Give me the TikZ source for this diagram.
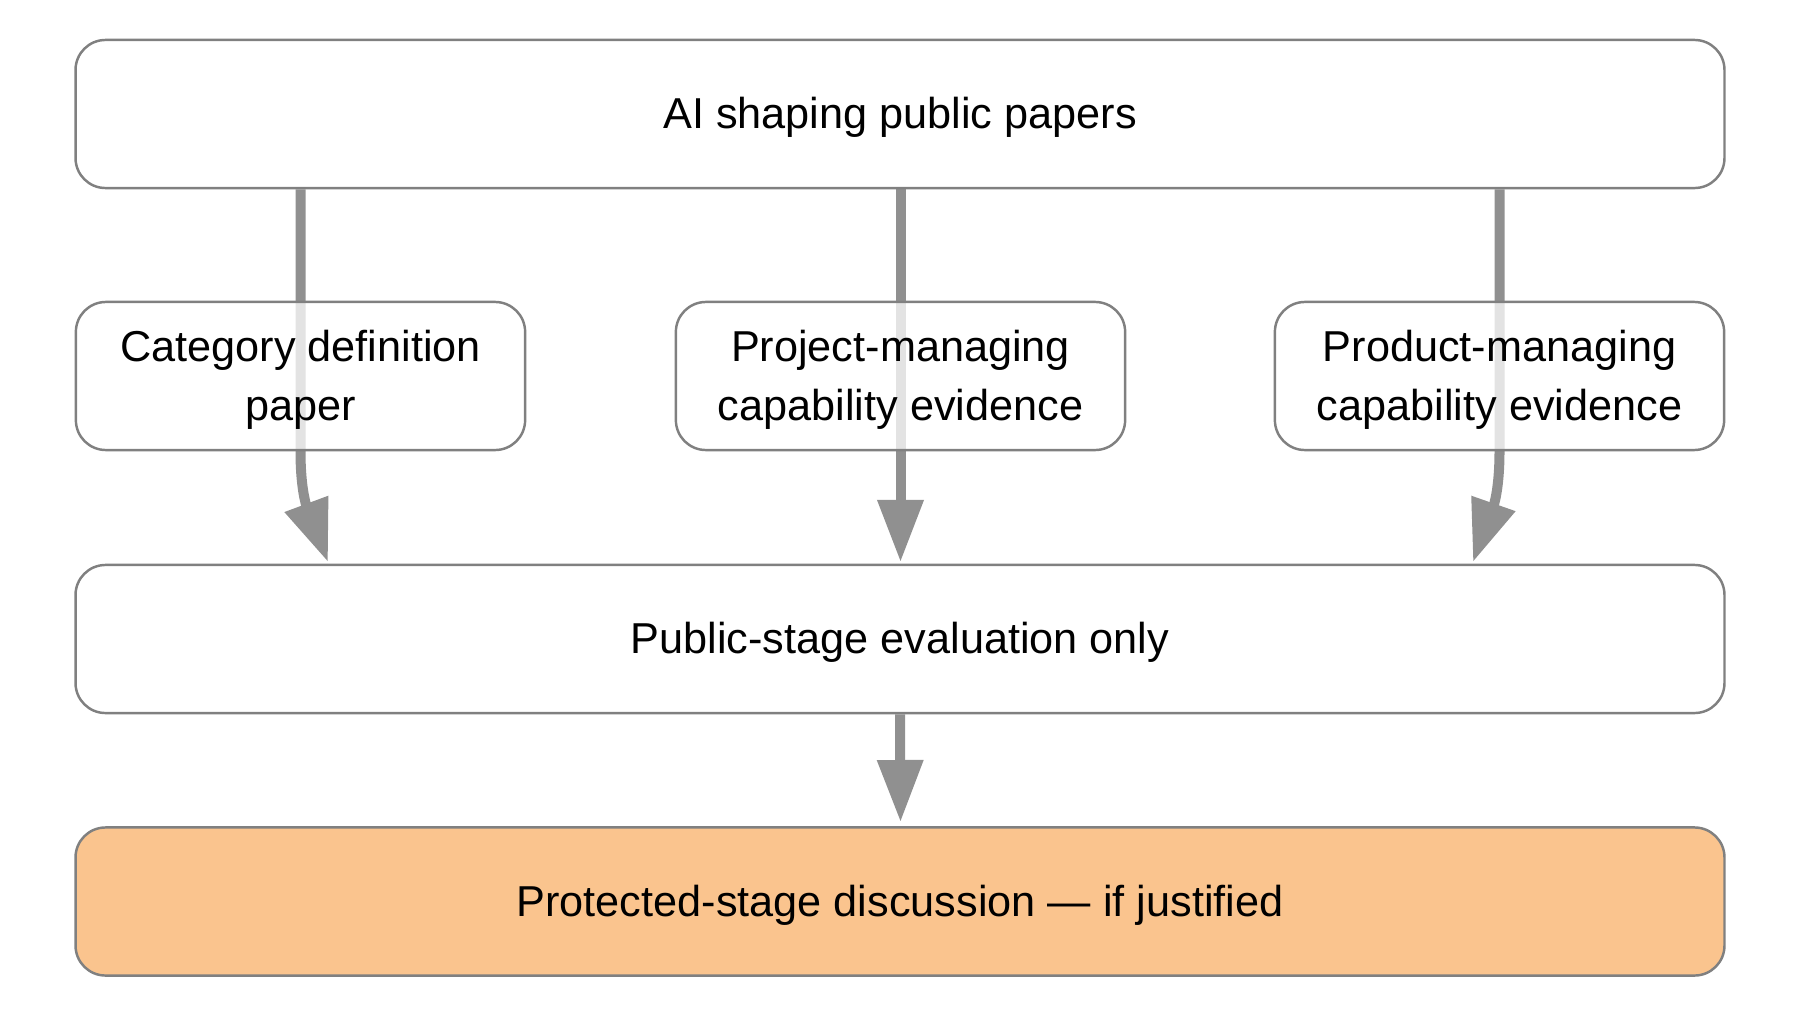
\documentclass[tikz,border=0pt]{standalone}
\usepackage{fontspec}
\setmainfont{Liberation Sans}
\usetikzlibrary{arrows.meta}
\definecolor{boxline}{HTML}{808080}
\definecolor{arrowgray}{HTML}{909090}
\definecolor{orangefill}{HTML}{FAC48E}
\pgfdeclarelayer{bg}
\pgfsetlayers{bg,main}
\begin{document}
\begin{tikzpicture}[x=0.01cm,y=0.01cm,
 box/.style={draw=boxline, line width=0.7pt, rounded corners=0.3cm, fill=white, fill opacity=0.75, text opacity=1, align=center, inner sep=0pt, text depth=0.4pt, font=\fontsize{12.3}{17}\selectfont},
 wide/.style={box, minimum width=16.48cm, minimum height=1.48cm},
 mid/.style={box, minimum width=4.49cm, minimum height=1.48cm},
 flow/.style={draw=arrowgray, line width=0.1cm, -{Triangle[length=0.62cm,width=0.44cm]}}]
\useasboundingbox (0,0) rectangle (1800,1014);
\node[wide] (top) at (900,900) {AI shaping public papers};
\node[mid] (cat) at (300.5,638) {Category definition\\paper};
\node[mid] (proj) at (900.5,638) {Project-managing\\capability evidence};
\node[mid] (prod) at (1499.5,638) {Product-managing\\capability evidence};
\node[wide] (eval) at (900,375) {Public-stage evaluation only};
\node[wide, fill=orangefill, fill opacity=1] (prot) at (900,112.5) {Protected-stage discussion — if justified};
\coordinate (lt) at (328,452);
\coordinate (ct) at (900.5,452);
\coordinate (rt) at (1473,452);
\coordinate (bt) at (900.5,192);
\begin{pgfonlayer}{bg}
\draw[flow] (top.south -| cat.center) -- (cat.south) .. controls (300.5,510) and (312,495) .. (lt);
\draw[flow] (top.south -| proj.center) -- (ct);
\draw[flow] (top.south -| prod.center) -- (prod.south) .. controls (1499.5,510) and (1488,495) .. (rt);
\draw[flow] (eval.south) -- (bt);
\end{pgfonlayer}
\end{tikzpicture}
\end{document}
